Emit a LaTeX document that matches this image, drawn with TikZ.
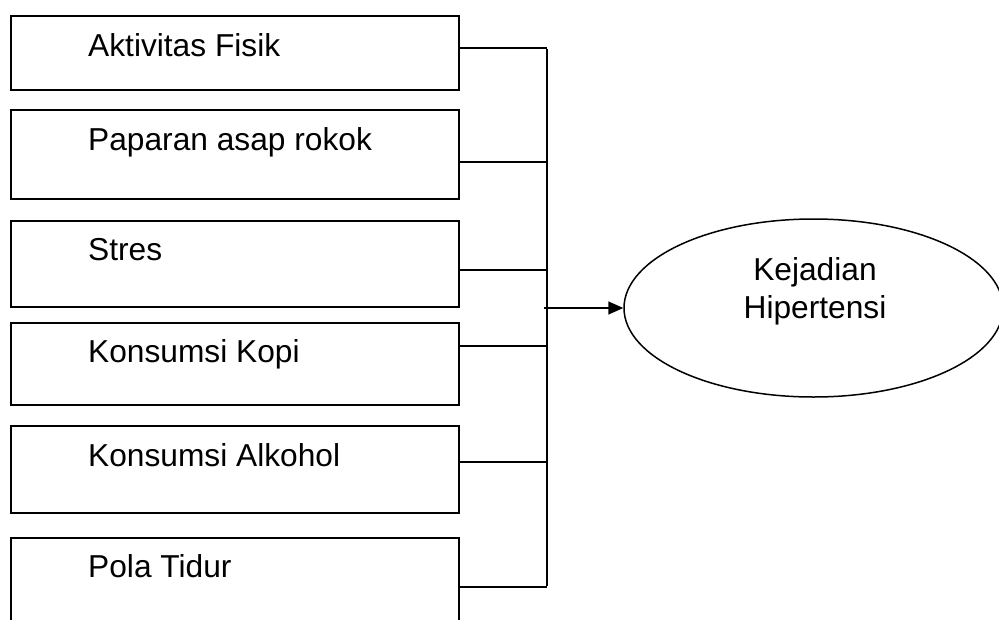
\documentclass[tikz,border=0pt]{standalone}
\usepackage{fontspec}
\setmainfont{Liberation Sans}
\usepackage{tikz}
\usetikzlibrary{arrows.meta}
\usetikzlibrary{calc}
\usetikzlibrary{shapes.geometric}

\tikzset{
  faktor/.style={draw,line width=1.8pt,rectangle,anchor=north west,minimum width=448pt,inner sep=0pt},
  faktortext/.style={anchor=base west,inner sep=0pt},
  garis/.style={line width=1.5pt},
}

\begin{document}
\begin{tikzpicture}[x=1pt,y=-1pt]
			\useasboundingbox (0,0) rectangle (999,619);
			\clip (0,0) rectangle (999,619);
			\fontsize{31.7}{38}\selectfont
			% kotak faktor
			\node[faktor,minimum height=74pt] (f1) at (10,15) {};
			\node[faktor,minimum height=89pt] (f2) at (10,109) {};
			\node[faktor,minimum height=86pt] (f3) at (10,220) {};
			\node[faktor,minimum height=82pt] (f4) at (10,322) {};
			\node[faktor,minimum height=87pt] (f5) at (10,425) {};
			\node[faktor,minimum height=120pt] (f6) at (10,537) {};
			\node[faktortext] (t1) at ($(f1.north west)+(78,41)$) {Aktivitas Fisik};
			\node[faktortext] (t2) at ($(f2.north west)+(78,41)$) {Paparan asap rokok};
			\node[faktortext] (t3) at ($(f3.north west)+(78,40)$) {Stres};
			\node[faktortext] (t4) at ($(f4.north west)+(78,40)$) {Konsumsi Kopi};
			\node[faktortext] (t5) at ($(f5.north west)+(78,41)$) {Konsumsi Alkohol};
			\node[faktortext] (t6) at ($(f6.north west)+(78,40)$) {Pola Tidur};
			% kejadian hipertensi
			\node[draw,ellipse,line width=1.5pt,minimum width=379pt,minimum height=178pt,inner sep=0pt] (hip) at (813.5,308) {};
			\node[align=center,inner sep=0pt] (hiptext) at ($(hip.center)+(1.5,-17)$) {Kejadian\\Hipertensi};
			% garis penghubung
			\coordinate (j1) at (547,48);
			\coordinate (j2) at (547,162);
			\coordinate (j3) at (547,270);
			\coordinate (j4) at (547,346);
			\coordinate (j5) at (547,462);
			\coordinate (j6) at (547,587);
			\coordinate (jin) at (544,308);
			\draw[garis] (f1.east |- j1) -- (j1);
			\draw[garis] (f2.east |- j2) -- (j2);
			\draw[garis] (f3.east |- j3) -- (j3);
			\draw[garis] (f4.east |- j4) -- (j4);
			\draw[garis] (f5.east |- j5) -- (j5);
			\draw[garis] (f6.east |- j6) -- (j6);
			\draw[garis] ([yshift=-0.75pt]j1) -- ([yshift=0.75pt]j6);
			\draw[garis,-{Triangle[length=15pt,width=13pt]}] (jin) -- (hip.west);
		\end{tikzpicture}
\end{document}
